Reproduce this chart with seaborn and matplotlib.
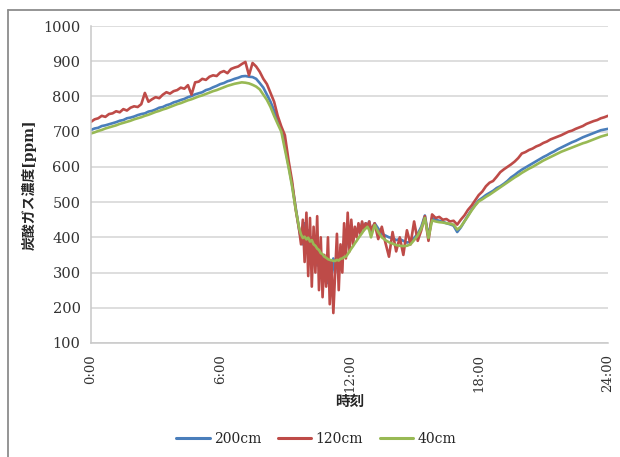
import numpy as np
import pandas as pd
import matplotlib
matplotlib.use("Agg")
import matplotlib.pyplot as plt
from matplotlib.lines import Line2D
import seaborn as sns

# readings every 10 min, every 5 min in the midday dip (9:40 - 13:00)
hours = ([i / 6 for i in range(58)]
         + [9 + 40 / 60 + i * 5 / 60 for i in range(41)]
         + [13 + i / 6 for i in range(1, 67)])

co2_200 = [
    705, 709, 711, 716, 718, 721,
    724, 727, 731, 733, 738, 740,
    743, 747, 750, 752, 757, 759,
    763, 768, 770, 775, 778, 783,
    786, 790, 793, 798, 801, 806,
    809, 812, 818, 821, 826, 830,
    835, 838, 843, 846, 850, 853,
    857, 858, 856, 855, 850, 838,
    825, 805, 785, 760, 730, 710,
    660, 605, 550, 485,
    # 9:40 - 13:00 (5 min)
    420, 395, 380, 440, 390, 420, 360, 400, 340, 380,
    320, 370, 300, 350, 290, 340, 270, 330, 290, 340,
    300, 350, 320, 370, 340, 390, 370, 400, 380, 410,
    395, 420, 410, 430, 420, 440, 425, 440, 430, 445,
    415,
    # 13:10 -
    440, 425, 410, 405, 400,
    398, 392, 395, 390, 385, 388,
    398, 410, 430, 462, 402, 455,
    450, 447, 444, 440, 437, 433,
    415, 428, 445, 462, 478, 492,
    505, 512, 520, 526, 532, 540,
    545, 552, 560, 570, 577, 585,
    592, 598, 604, 610, 616, 622,
    628, 633, 639, 644, 650, 655,
    660, 665, 670, 674, 679, 684,
    688, 692, 696, 700, 704, 706,
    708,
]

co2_120 = [
    728, 735, 738, 745, 742, 750,
    752, 758, 755, 764, 760, 768,
    772, 770, 778, 810, 785, 792,
    798, 795, 805, 812, 808, 815,
    818, 825, 822, 832, 805, 840,
    842, 850, 847, 856, 860, 858,
    868, 872, 866, 878, 882, 885,
    892, 898, 860, 895, 885, 870,
    850, 835, 810, 785, 745, 715,
    690, 620, 560, 480,
    # 9:40 - 13:00 (5 min)
    420, 380, 450, 330, 470, 290, 455, 260, 430, 300,
    460, 250, 400, 230, 350, 260, 400, 210, 330, 185,
    300, 410, 250, 380, 300, 440, 340, 470, 360, 450,
    380, 430, 400, 440, 410, 445, 420, 440, 430, 445,
    420,
    # 13:10 -
    440, 395, 430, 385, 345,
    415, 360, 400, 350, 420, 380,
    445, 390, 420, 460, 390, 465,
    455, 458, 450, 452, 445, 447,
    436, 450, 462, 478, 490, 505,
    520, 530, 545, 555, 560, 572,
    585, 593, 600, 607, 615, 625,
    638, 642, 648, 652, 658, 662,
    668, 672, 678, 682, 686, 690,
    695, 700, 703, 708, 712, 716,
    722, 726, 730, 733, 738, 741,
    745,
]

co2_40 = [
    695, 698, 702, 705, 709, 712,
    715, 718, 722, 725, 728, 731,
    735, 738, 741, 745, 748, 752,
    756, 759, 763, 766, 770, 774,
    778, 781, 785, 789, 792, 796,
    800, 803, 807, 811, 815, 818,
    822, 826, 830, 833, 836, 838,
    840, 839, 837, 833, 828, 820,
    805, 790, 770, 745, 722, 700,
    650, 600, 545, 480,
    # 9:40 - 13:00 (5 min)
    425, 408, 398, 402, 394, 399, 388, 392, 380, 376,
    368, 364, 355, 352, 345, 342, 338, 336, 335, 333,
    333, 336, 334, 339, 340, 344, 345, 352, 360, 368,
    375, 383, 390, 398, 405, 412, 420, 425, 430, 420,
    400,
    # 13:10 -
    435, 415, 400, 392, 386,
    382, 378, 376, 375, 376, 380,
    392, 405, 425, 455, 398, 448,
    445, 443, 442, 440, 438, 436,
    422, 430, 445, 460, 476, 490,
    502, 508, 515, 521, 528, 535,
    542, 549, 556, 563, 570, 576,
    583, 589, 595, 600, 606, 612,
    618, 623, 628, 633, 638, 643,
    647, 651, 655, 659, 663, 667,
    670, 674, 678, 682, 686, 689,
    692,
]

series = ["200cm", "120cm", "40cm"]
colors = ["#4a7ebb", "#be4b48", "#98b954"]
xticks = [0, 6, 12, 18, 24]
xticklabels = ["0:00", "6:00", "12:00", "18:00", "24:00"]

df = pd.concat([
    pd.DataFrame({"hour": hours, "ppm": co2_200, "height": "200cm"}),
    pd.DataFrame({"hour": hours, "ppm": co2_120, "height": "120cm"}),
    pd.DataFrame({"hour": hours, "ppm": co2_40, "height": "40cm"}),
])

sns.set_style("white")
plt.rcParams["font.family"] = ["DejaVu Serif", "Noto Sans CJK JP"]

fig = plt.figure(figsize=(6.2, 4.57), dpi=100)
ax = fig.add_axes([0.1468, 0.2495, 0.8338, 0.6936])

sns.lineplot(data=df, x="hour", y="ppm", hue="height", hue_order=series,
             palette=colors, linewidth=1.9, ax=ax, legend=False)

ax.set_xlim(0, 24)
ax.set_ylim(100, 1000)
ax.set_yticks(range(100, 1001, 100))
ax.set_xticks(xticks)
ax.set_xticklabels(xticklabels, rotation=90, fontsize=9.5, color="#333333")
ax.tick_params(axis="y", labelsize=10.5, colors="#333333", length=4, color="#bbbbbb")
ax.tick_params(axis="x", length=5, color="#bbbbbb", pad=3)
ax.yaxis.grid(True, color="#d4d4d4", linewidth=1.1)
ax.xaxis.grid(False)
for side in ["top", "right"]:
    ax.spines[side].set_visible(False)
for side in ["left", "bottom"]:
    ax.spines[side].set_color("#c8c8c8")
    ax.spines[side].set_linewidth(1.1)

ax.set_xlabel("時刻", fontsize=10.5, fontweight="bold", labelpad=2)
ax.set_ylabel("炭酸ガス濃度[ppm]", fontsize=10, fontweight="bold", labelpad=5)

handles = [Line2D([], [], color=c, linewidth=2.2) for c in colors]
fig.legend(handles, series, loc="center", bbox_to_anchor=(0.51, 0.040),
           ncol=3, frameon=False, fontsize=10, handlelength=2.4,
           handletextpad=0.3, columnspacing=1.2)

# outer chart frame (left and top edges visible)
fig.add_artist(Line2D([8 / 620, 8 / 620], [0, 1 - 10 / 457], color="#8c8c8c",
                      linewidth=1.3, transform=fig.transFigure))
fig.add_artist(Line2D([8 / 620, 1], [1 - 10 / 457, 1 - 10 / 457], color="#8c8c8c",
                      linewidth=1.3, transform=fig.transFigure))

fig.savefig("out.png", dpi=100, facecolor="white")
